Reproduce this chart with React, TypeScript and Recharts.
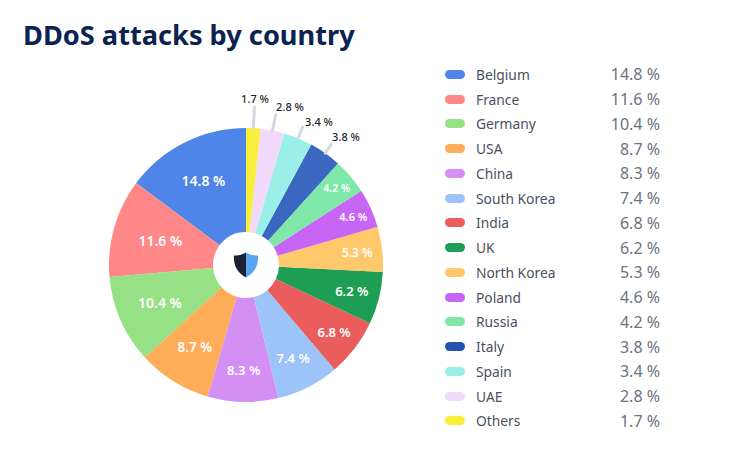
import React from 'react';
import { PieChart, Pie, Cell } from 'recharts';

const countries = ['Belgium', 'France', 'Germany', 'USA', 'China', 'South Korea', 'India', 'UK', 'North Korea', 'Poland', 'Russia', 'Italy', 'Spain', 'UAE', 'Others'];
const shares = [14.8, 11.6, 10.4, 8.7, 8.3, 7.4, 6.8, 6.2, 5.3, 4.6, 4.2, 3.8, 3.4, 2.8, 1.7];
const sliceColors = ['#4F85E8', '#FF8787', '#96E085', '#FFAC59', '#D48FF5', '#9CC4F8', '#EB5C5C', '#1E9E55', '#FFC86B', '#C766F5', '#7FE8A8', '#3A68C0', '#9AEFE8', '#F0D9FB', '#FAEE3C'];
const legendColors = ['#4F85E8', '#FF8787', '#96E085', '#FFAC59', '#D48FF5', '#9CC4F8', '#EB5C5C', '#1E9E55', '#FFC86B', '#C766F5', '#7FE8A8', '#2450AE', '#9AEFE8', '#F0D9FB', '#FAEE3C'];

const data = countries.map((name, i) => ({ name, value: shares[i] }));

const FONT = '"Noto Sans", "Open Sans", sans-serif';
const CX = 246;
const CY = 265;
const OUTER = 137;

// hand placed in the original, so per slice here too
const insideRadius = [95, 89, 94, 97, 105, 104, 111, 109, 112, 118, 119];
const insideFont = [14, 14, 14, 13.5, 13, 13, 13, 13, 12, 11, 10.5];
const outsideLine = [158, 153, 149, 148];
const outsideOffset = [[9, -167], [44, -159], [73, -144], [100, -129]];

const SliceLabel = (props: any) => {
  const { midAngle, index, value } = props;
  const rad = (midAngle * Math.PI) / 180;
  const at = (r: number) => [CX + r * Math.cos(rad), CY - r * Math.sin(rad)];

  if (index < insideRadius.length) {
    const [x, y] = at(insideRadius[index]);
    return (
      <text x={x} y={y} fill="#fff" fontFamily={FONT} fontWeight={600} fontSize={insideFont[index]} textAnchor="middle" dominantBaseline="central">
        {value} %
      </text>
    );
  }

  const k = shares.length - 1 - index; // 0 = Others, next to the top
  const [x1, y1] = at(OUTER);
  const [x2, y2] = at(outsideLine[k]);
  return (
    <g>
      <line x1={x1} y1={y1} x2={x2} y2={y2} stroke="#D5D8E0" strokeWidth={3} strokeLinecap="round" />
      <text x={CX + outsideOffset[k][0]} y={CY + outsideOffset[k][1]} fill="#1F2430" fontFamily={FONT} fontWeight={500} fontSize={11} textAnchor="middle" dominantBaseline="central">
        {value} %
      </text>
    </g>
  );
};

const LegendTable = () => (
  <div style={{ position: 'absolute', left: 445, top: 62, width: 230, fontFamily: FONT }}>
    {data.map((d, i) => (
      <div key={d.name} style={{ display: 'flex', alignItems: 'center', height: 24.75 }}>
        <span style={{ width: 20, height: 9, borderRadius: 5, background: legendColors[i], marginRight: 11 }} />
        <span style={{ width: 130, fontSize: 13.8, color: '#4A5060' }}>{d.name}</span>
        <span style={{ width: 54, textAlign: 'right', fontSize: 16, color: '#6B7280' }}>{d.value} %</span>
      </div>
    ))}
  </div>
);

const App = () => (
  <div style={{ position: 'absolute', left: 0, top: 0, width: 741, height: 461, background: '#fff', overflow: 'hidden' }}>
    <PieChart width={741} height={461} margin={{ top: 0, right: 0, bottom: 0, left: 0 }}>
      <Pie
        data={data}
        dataKey="value"
        nameKey="name"
        cx={CX}
        cy={CY}
        innerRadius={33}
        outerRadius={OUTER}
        startAngle={90}
        endAngle={450}
        stroke="none"
        labelLine={false}
        label={SliceLabel}
        isAnimationActive={false}
      >
        {data.map((d, i) => (
          <Cell key={d.name} fill={sliceColors[i]} />
        ))}
      </Pie>
      <g transform={`translate(${CX}, ${CY})`}>
        <path d="M0,-12.5 C-4,-10 -8,-9.5 -12,-9.5 C-12.5,-1 -10,7 0,12.5 Z" fill="#1A2130" />
        <path d="M0,-12.5 C4,-10 8,-9.5 12,-9.5 C12.5,-1 10,7 0,12.5 Z" fill="#5AA5F2" />
      </g>
    </PieChart>
    <div style={{ position: 'absolute', left: 23, top: 16, fontFamily: FONT, fontWeight: 700, fontSize: 27.2, color: '#0B2350', whiteSpace: 'nowrap' }}>
      DDoS attacks by country
    </div>
    <LegendTable />
  </div>
);

export default App;
